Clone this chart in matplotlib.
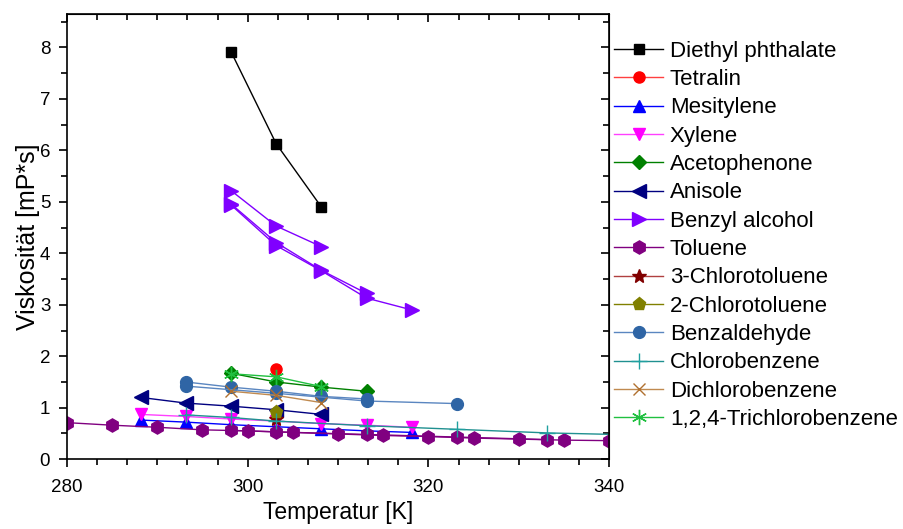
import numpy as np
import matplotlib
matplotlib.use('Agg')
import matplotlib.pyplot as plt
from matplotlib.ticker import MultipleLocator

plt.rcParams['font.family'] = ['Liberation Sans', 'DejaVu Sans']

# Daten (Temperatur in K, Viskosität in mP*s)
dep_T = [298.15, 303.15, 308.15]
dep_v = [7.92, 6.13, 4.90]

tetralin_T = [303.15]
tetralin_v = [1.76]

mesitylene_T = [288.15, 293.15, 298.15, 303.15, 308.15, 313.15, 318.15]
mesitylene_v = [0.76, 0.72, 0.67, 0.63, 0.59, 0.55, 0.52]

xylene_T = [288.15, 293.15, 298.15, 303.15, 308.15, 313.15, 318.15]
xylene_v = [0.87, 0.83, 0.78, 0.74, 0.69, 0.66, 0.62]

aceto_T = [298.15, 303.15, 308.15, 313.15]
aceto_v = [1.67, 1.50, 1.40, 1.32]

anisole_T = [288.15, 293.15, 298.15, 303.15, 308.15]
anisole_v = [1.20, 1.09, 1.03, 0.96, 0.87]

benzyl1_T = [298.15, 303.15, 308.15]
benzyl1_v = [5.22, 4.53, 4.13]
benzyl2_T = [298.15, 303.15, 308.15, 313.15]
benzyl2_v = [4.96, 4.21, 3.67, 3.22]
benzyl3_T = [298.15, 303.15, 308.15, 313.15, 318.15]
benzyl3_v = [4.94, 4.15, 3.66, 3.13, 2.90]

toluene1_T = [280, 285, 290, 295, 300, 305, 310, 315, 320, 325, 330, 335, 340]
toluene1_v = [0.71, 0.66, 0.62, 0.57, 0.55, 0.52, 0.49, 0.46, 0.44, 0.41, 0.39, 0.37, 0.36]
toluene2_T = [298.15, 303.15, 313.15, 323.15, 333.15]
toluene2_v = [0.56, 0.53, 0.48, 0.43, 0.38]

chlortol3_T = [303.15]
chlortol3_v = [0.79]

chlortol2_T = [303.15]
chlortol2_v = [0.91]

benzald1_T = [293.15, 298.15, 303.15, 308.15, 313.15]
benzald1_v = [1.50, 1.40, 1.32, 1.22, 1.17]
benzald2_T = [293.15, 303.15, 313.15, 323.15]
benzald2_v = [1.42, 1.28, 1.13, 1.08]

chlorobenz_T = [293.15, 298.15, 303.15, 313.15, 323.15, 333.15, 343.15]
chlorobenz_v = [0.86, 0.81, 0.74, 0.65, 0.58, 0.51, 0.47]

dichlor_T = [298.15, 303.15, 308.15]
dichlor_v = [1.32, 1.24, 1.10]

trichlor_T = [298.15, 303.15, 308.15]
trichlor_v = [1.66, 1.60, 1.41]

fig = plt.figure(figsize=(9.04, 5.29), dpi=100)
ax = fig.add_axes([0.074, 0.132, 0.6, 0.8415])

ms = 8

def draw(T, v, label, color, marker, lcolor=None, size=ms, mew=1.0):
    ax.plot(T, v, color=lcolor or color, linewidth=1.0, marker=marker,
            markersize=size, markerfacecolor=color, markeredgecolor=color,
            markeredgewidth=mew, label=label)

draw(dep_T, dep_v, 'Diethyl phthalate', 'black', 's', size=7.5)
draw(tetralin_T, tetralin_v, 'Tetralin', 'red', 'o', lcolor='#ff4040')
draw(mesitylene_T, mesitylene_v, 'Mesitylene', 'blue', '^', size=9)
draw(xylene_T, xylene_v, 'Xylene', 'magenta', 'v', lcolor='#ff40ff', size=9)
draw(aceto_T, aceto_v, 'Acetophenone', 'green', 'D', size=7.5)
draw(anisole_T, anisole_v, 'Anisole', 'navy', '<', size=9.5)
draw(benzyl1_T, benzyl1_v, 'Benzyl alcohol', '#8000ff', '>', size=9.5)
draw(benzyl2_T, benzyl2_v, None, '#8000ff', '>', size=9.5)
draw(benzyl3_T, benzyl3_v, None, '#8000ff', '>', size=9.5)
draw(toluene1_T, toluene1_v, 'Toluene', 'purple', 'h', size=9.5)
draw(toluene2_T, toluene2_v, None, 'purple', 'h', size=9.5)
draw(chlortol3_T, chlortol3_v, '3-Chlorotoluene', '#800000', '*', lcolor='#b04040', size=10)
draw(chlortol2_T, chlortol2_v, '2-Chlorotoluene', '#808000', 'p', size=9.5)
draw(benzald1_T, benzald1_v, 'Benzaldehyde', '#2f65a5', 'o', lcolor='#5a86c0', size=8.5)
draw(benzald2_T, benzald2_v, None, '#2f65a5', 'o', lcolor='#5a86c0', size=8.5)
draw(chlorobenz_T, chlorobenz_v, 'Chlorobenzene', '#20a0a0', '+', lcolor='#209090', size=11)
draw(dichlor_T, dichlor_v, 'Dichlorobenzene', '#b07030', 'x', lcolor='#c08a50', size=9)
draw(trichlor_T, trichlor_v, '1,2,4-Trichlorobenzene', '#20c040', (6, 2, 0), size=11)

ax.set_xlim(280, 340)
ax.set_ylim(0, 8.65)
ax.xaxis.set_major_locator(MultipleLocator(20))
ax.xaxis.set_minor_locator(MultipleLocator(20 / 6))
ax.yaxis.set_major_locator(MultipleLocator(1))
ax.yaxis.set_minor_locator(MultipleLocator(0.5))
ax.tick_params(axis='both', which='major', direction='out', length=6, width=1.2,
               labelsize=13.5, top=False, right=False)
ax.tick_params(axis='x', which='major', pad=8)
ax.tick_params(axis='y', which='major', pad=6)
ax.tick_params(axis='both', which='minor', direction='out', length=4, width=1.2)
# Spiegel-Ticks oben und rechts (nach innen)
ax2 = ax.secondary_xaxis('top')
ax2.xaxis.set_major_locator(MultipleLocator(20))
ax2.xaxis.set_minor_locator(MultipleLocator(20 / 6))
ax2.tick_params(which='major', direction='in', length=6, width=1.2, labeltop=False)
ax2.tick_params(which='minor', direction='in', length=4, width=1.2)
ay2 = ax.secondary_yaxis('right')
ay2.yaxis.set_major_locator(MultipleLocator(1))
ay2.yaxis.set_minor_locator(MultipleLocator(0.5))
ay2.tick_params(which='major', direction='in', length=6, width=1.2, labelright=False)
ay2.tick_params(which='minor', direction='in', length=4, width=1.2)
for s in ax.spines.values():
    s.set_linewidth(1.2)

ax.set_xlabel('Temperatur [K]', fontsize=16.5, labelpad=4)
ax.set_ylabel('Viskosität [mP*s]', fontsize=18, labelpad=0)

ax.legend(loc='upper left', bbox_to_anchor=(1.005, 0.945), frameon=False,
          fontsize=16, handlelength=2.2, handletextpad=0.3, labelspacing=0.33,
          borderaxespad=0.0, borderpad=0.1)

plt.savefig('out.png', dpi=100)
